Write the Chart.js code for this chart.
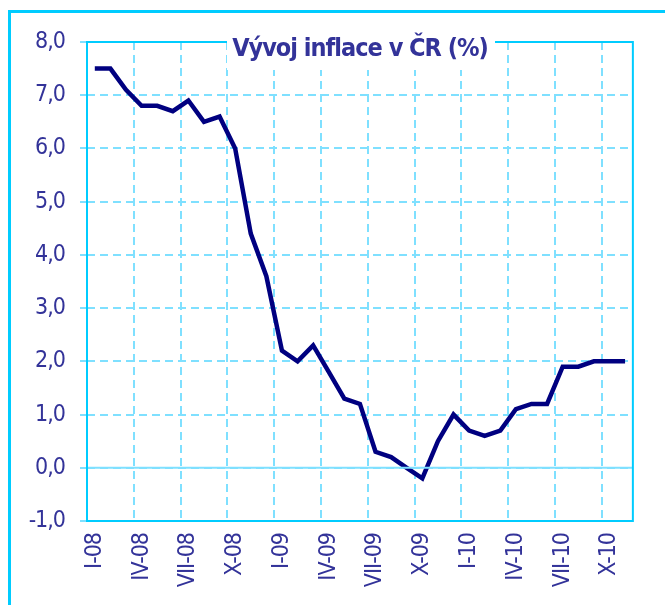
<!DOCTYPE html>
<html>
<head>
<meta charset="utf-8">
<script src="https://cdn.jsdelivr.net/npm/chart.js@4.4.1/dist/chart.umd.min.js"></script>
<style>
  html, body { margin: 0; padding: 0; background: #fff; overflow: hidden; }
  #wrap { width: 665px; height: 605px; }
</style>
</head>
<body>
<div id="wrap"><canvas id="myChart" width="665" height="605"></canvas></div>
<script>
// mesice I-08 .. XI-10
const months = [
    'I-08', 'II-08', 'III-08', 'IV-08', 'V-08', 'VI-08', 'VII-08', 'VIII-08', 'IX-08', 'X-08', 'XI-08', 'XII-08',
    'I-09', 'II-09', 'III-09', 'IV-09', 'V-09', 'VI-09', 'VII-09', 'VIII-09', 'IX-09', 'X-09', 'XI-09', 'XII-09',
    'I-10', 'II-10', 'III-10', 'IV-10', 'V-10', 'VI-10', 'VII-10', 'VIII-10', 'IX-10', 'X-10', 'XI-10'
];
// mezirocni inflace v %
const inflace = [
    7.5, 7.5, 7.1, 6.8, 6.8, 6.7, 6.9, 6.5, 6.6, 6.0, 4.4, 3.6,
    2.2, 2.0, 2.3, 1.8, 1.3, 1.2, 0.3, 0.2, 0.0, -0.2, 0.5, 1.0,
    0.7, 0.6, 0.7, 1.1, 1.2, 1.2, 1.9, 1.9, 2.0, 2.0, 2.0
];
// popisky na ose x
const xTickLabels = ['I-08', 'IV-08', 'VII-08', 'X-08', 'I-09', 'IV-09', 'VII-09', 'X-09', 'I-10', 'IV-10', 'VII-10', 'X-10'];
const yMin = -1;
const yMax = 8;
const title = 'Vývoj inflace v ČR (%)';

const textColor = '#333399';
const cyan = '#00CCFF';
const gridCyan = '#7FE0FF';
const fontName = '"Liberation Sans Narrow", "Arial Narrow", "DejaVu Sans Condensed", sans-serif';

// uzsi pismo - neni k dispozici Arial Narrow
const narrowPlugin = {
    id: 'narrow',
    beforeUpdate(chart) { chart.ctx.letterSpacing = '-1px'; },
    beforeDraw(chart) { chart.ctx.letterSpacing = '-1px'; }
};

// ramecek, obrys grafu a nadpis
const framePlugin = {
    id: 'frame',
    beforeDraw(chart) {
        const ctx = chart.ctx;
        ctx.save();
        ctx.fillStyle = '#fff';
        ctx.fillRect(0, 0, chart.width, chart.height);
        ctx.strokeStyle = cyan;
        ctx.lineWidth = 3;
        ctx.beginPath();
        ctx.moveTo(9.5, chart.height + 5);
        ctx.lineTo(9.5, 11.5);
        ctx.lineTo(chart.width + 5, 11.5);
        ctx.stroke();
        ctx.restore();
    },
    afterDatasetsDraw(chart) {
        const ctx = chart.ctx;
        const a = chart.chartArea;
        const y0 = chart.scales.y.getPixelForValue(0);
        ctx.save();
        // nulova linie
        ctx.strokeStyle = gridCyan;
        ctx.lineWidth = 2;
        ctx.beginPath();
        ctx.moveTo(a.left, y0);
        ctx.lineTo(a.right, y0);
        ctx.stroke();
        // obrys plochy
        ctx.strokeStyle = cyan;
        ctx.lineWidth = 2;
        ctx.strokeRect(a.left, a.top, a.right - a.left, a.bottom - a.top);
        // nadpis
        ctx.fillStyle = '#fff';
        ctx.fillRect(227, 28, 268, 42);
        ctx.fillStyle = textColor;
        ctx.font = 'bold 25px ' + fontName;
        ctx.letterSpacing = '-1px';
        ctx.textAlign = 'center';
        ctx.textBaseline = 'middle';
        ctx.fillText(title, 360, 49);
        ctx.restore();
    }
};

const ctx = document.getElementById('myChart').getContext('2d');
new Chart(ctx, {
    type: 'line',
    data: {
        labels: months,
        datasets: [{
            data: inflace,
            borderColor: '#000080',
            borderWidth: 4.5,
            pointRadius: 0,
            tension: 0,
            fill: false
        }]
    },
    options: {
        responsive: false,
        animation: false,
        layout: { padding: { top: 42, right: 23, left: 0, bottom: 0 } },
        plugins: { legend: { display: false }, tooltip: { enabled: false } },
        scales: {
            x: {
                type: 'category',
                offset: true,
                grid: {
                    offset: true,
                    drawTicks: false,
                    lineWidth: 2,
                    color: c => (c.index % 3 === 0 ? gridCyan : 'rgba(0,0,0,0)')
                },
                border: { display: false, dash: [8, 5] },
                ticks: {
                    autoSkip: false,
                    minRotation: 90,
                    maxRotation: 90,
                    padding: 12,
                    color: textColor,
                    font: { family: fontName, size: 23 },
                    callback: function(value, index) {
                        const lab = months[index];
                        return xTickLabels.includes(lab) ? lab : '';
                    }
                },
                afterFit(scale) { scale.height = 84; }
            },
            y: {
                min: yMin,
                max: yMax,
                grid: {
                    lineWidth: 2,
                    color: gridCyan,
                    tickColor: gridCyan,
                    tickLength: 7,
                    tickWidth: 2
                },
                border: { display: false, dash: [8, 5] },
                ticks: {
                    stepSize: 1,
                    padding: 15,
                    color: textColor,
                    font: { family: fontName, size: 23 },
                    callback: v => v.toFixed(1).replace('.', ',')
                },
                afterFit(scale) { scale.width = 87; }
            }
        }
    },
    plugins: [narrowPlugin, framePlugin]
});
</script>
</body>
</html>
